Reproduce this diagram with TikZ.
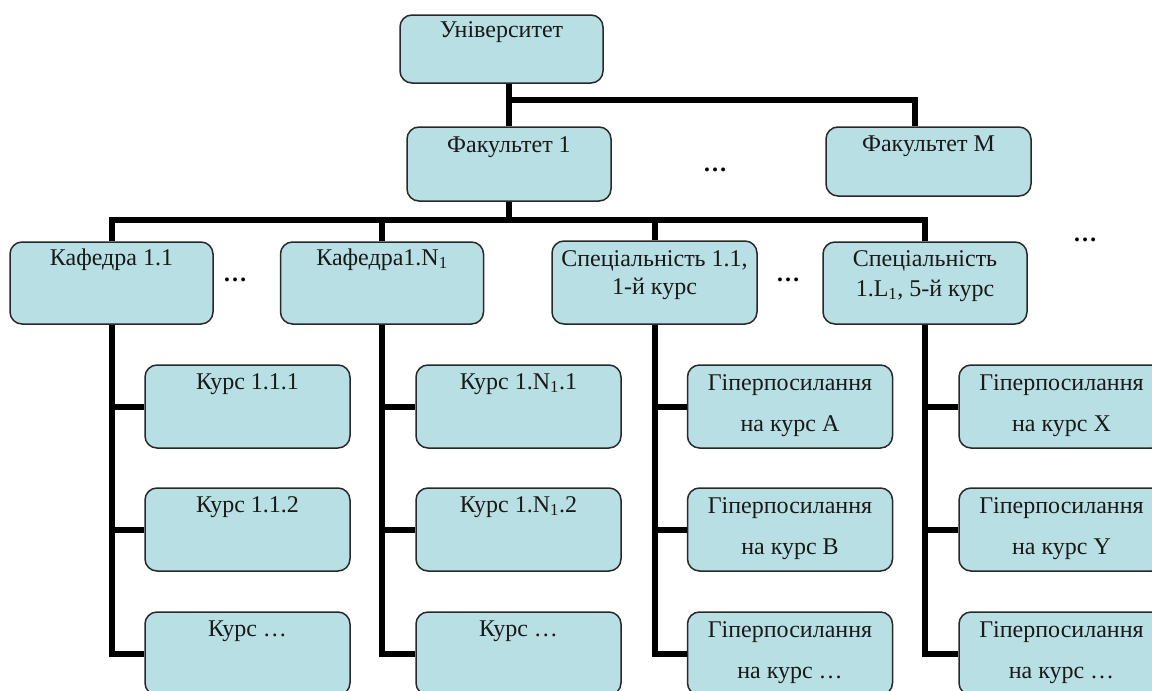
\documentclass[tikz,border=0pt]{standalone}
\usepackage{fontspec}
\setmainfont{Liberation Serif}
\definecolor{boxfill}{RGB}{184,223,227}
\definecolor{boxline}{RGB}{40,40,40}
\tikzset{
  box/.style={draw=boxline, line width=1.5pt, fill=boxfill, rounded corners=12pt,
    minimum width=#1, inner sep=0pt},
  box/.default=205pt,
  txt/.style={font=\fontsize{24}{28}\selectfont, inner sep=0pt, anchor=base, text=black!90},
  dotsn/.style={font=\fontsize{24}{28}\selectfont\bfseries, inner sep=0pt},
  conn/.style={line width=6pt, line join=miter, black},
}
\begin{document}
\begin{tikzpicture}[x=1pt,y=-1pt]
\useasboundingbox (0,0) rectangle (1152,691);
\clip (0,0) rectangle (1152,691);
% level 1-2
\node[box=203pt, minimum height=68pt] (u) at (501.5,49) {};
\node[box=204pt, minimum height=74pt] (f1) at (509,164) {};
\node[box=205pt, minimum height=69pt] (fM) at (928.5,161.5) {};
% level 3
\node[box=203pt, minimum height=82pt] (k1) at (111.5,283) {};
\node[box=203pt, minimum height=82pt] (kN) at (382,283) {};
\node[box=205pt, minimum height=83pt] (s1) at (654.5,282.5) {};
\node[box=204pt, minimum height=82pt] (sL) at (925,283) {};
% level 4
\foreach \n/\cx in {a/247.5,b/518.5,c/790,d/1061.5}{
  \node[box, minimum height=83pt] (\n1) at (\cx,406.5) {};
  \node[box, minimum height=83pt] (\n2) at (\cx,529.5) {};
  \node[box, minimum height=83pt] (\n3) at (\cx,653.5) {};
}
% coordinates for buses
\coordinate (tb) at (509,100);
\coordinate (bus) at (509,220);
% connectors
\draw[conn] (f1.north |- u.south) -- (f1.north);
\draw[conn] (f1.north |- tb) -| ([xshift=-13.5pt]fM.north);
\draw[conn] (f1.south) -- (bus);
\draw[conn] (k1.north) |- (bus) -| (sL.north);
\draw[conn] (kN.north) -- (kN.north |- bus);
\draw[conn] (s1.north) -- (s1.north |- bus);
\foreach \p/\n in {k1/a,kN/b,s1/c,sL/d}{
  \draw[conn] (\p.south) |- (\n3.west);
  \draw[conn] (\n1.west -| \p.south) -- (\n1.west);
  \draw[conn] (\n2.west -| \p.south) -- (\n2.west);
}
% redraw boxes over line ends
% texts
\node[txt] (ut) at ([yshift=-23pt]u.north) {Університет};
\node[txt] (f1t) at ([yshift=-26pt]f1.north) {Факультет 1};
\node[txt] (fMt) at ([yshift=-25pt]fM.north) {Факультет М};
\node[txt] (k1t) at ([yshift=-24pt]k1.north) {Кафедра 1.1};
\node[txt] (kNt) at ([yshift=-24pt]kN.north) {Кафедра1.N\textsubscript{1}};
\node[txt] (s1t) at ([yshift=-26pt]s1.north) {Спеціальність 1.1,};
\node[txt] (s1u) at ([yshift=-54pt]s1.north) {1-й курс};
\node[txt] (sLt) at ([yshift=-25pt]sL.north) {Спеціальність};
\node[txt] (sLu) at ([yshift=-55pt]sL.north) {1.L\textsubscript{1}, 5-й курс};
\node[txt] (a1t) at ([yshift=-25pt]a1.north) {Курс 1.1.1};
\node[txt] (a2t) at ([yshift=-25pt]a2.north) {Курс 1.1.2};
\node[txt] (a3t) at ([yshift=-25pt]a3.north) {Курс …};
\node[txt] (b1t) at ([yshift=-25pt]b1.north) {Курс 1.N\textsubscript{1}.1};
\node[txt] (b2t) at ([yshift=-25pt]b2.north) {Курс 1.N\textsubscript{1}.2};
\node[txt] (b3t) at ([yshift=-25pt]b3.north) {Курс …};
\foreach \n/\l/\m/\r in {c/A/B/…, d/X/Y/…}{
  \node[txt] (\n1t) at ([yshift=-26pt]\n1.north) {Гіперпосилання};
  \node[txt] (\n1u) at ([yshift=-67pt]\n1.north) {на курс \l};
  \node[txt] (\n2t) at ([yshift=-26pt]\n2.north) {Гіперпосилання};
  \node[txt] (\n2u) at ([yshift=-67pt]\n2.north) {на курс \m};
  \node[txt] (\n3t) at ([yshift=-26pt]\n3.north) {Гіперпосилання};
  \node[txt] (\n3u) at ([yshift=-67pt]\n3.north) {на курс \r};
}
% dots
\node[dotsn] (d1) at (235,280) {…};
\node[dotsn] (d2) at (788,280) {…};
\node[dotsn] (d3) at (715,170) {…};
\node[dotsn] (d4) at (1085,240) {…};
\end{tikzpicture}
\end{document}
